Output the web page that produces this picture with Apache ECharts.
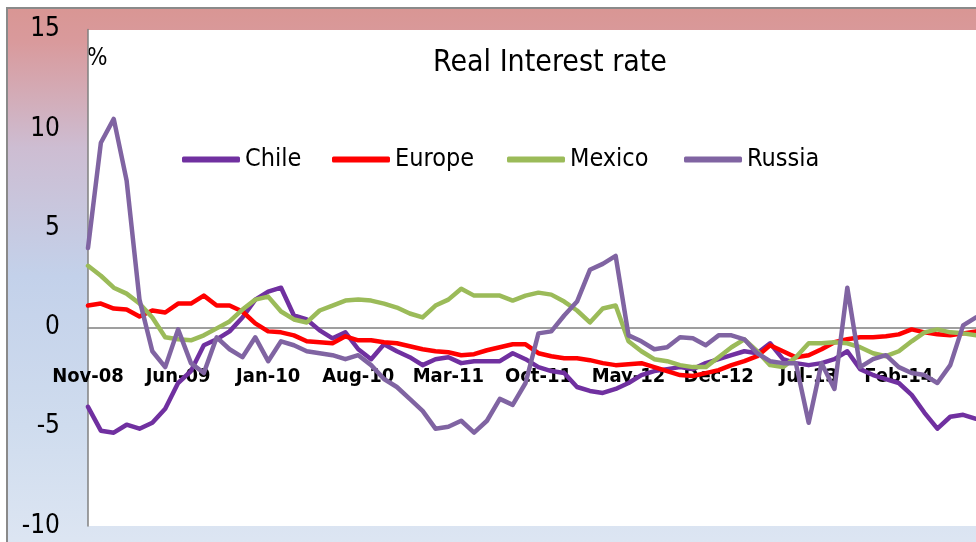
<!DOCTYPE html>
<html>
<head>
<meta charset="utf-8">
<script src="https://cdn.jsdelivr.net/npm/echarts@6/dist/echarts.min.js"></script>
<style>
  html, body { margin: 0; padding: 0; background: #fff; overflow: hidden; }
  #frame {
    position: absolute; left: 6px; top: 7px; width: 990px; height: 560px;
    border: 2px solid #8a8a8a; box-sizing: border-box;
    background: linear-gradient(to bottom, #d99694 0%, #d99a9c 6%, #cdbdd2 25%, #c3d1ea 48%, #cfdcee 75%, #dfe7f3 100%);
  }
  #plotbg { position: absolute; left: 88px; top: 30px; width: 900px; height: 496px; background: #fff; }
  #chart { position: absolute; left: 0; top: 0; width: 976px; height: 542px; }
</style>
</head>
<body>
<div id="frame"></div>
<div id="plotbg"></div>
<div id="chart"></div>
<script>
// monthly categories, Nov-08 .. Aug-14
const months = [
  'Nov-08', 'Dec-08',
  'Jan-09', 'Feb-09', 'Mar-09', 'Apr-09', 'May-09', 'Jun-09', 'Jul-09', 'Aug-09', 'Sep-09', 'Oct-09', 'Nov-09', 'Dec-09',
  'Jan-10', 'Feb-10', 'Mar-10', 'Apr-10', 'May-10', 'Jun-10', 'Jul-10', 'Aug-10', 'Sep-10', 'Oct-10', 'Nov-10', 'Dec-10',
  'Jan-11', 'Feb-11', 'Mar-11', 'Apr-11', 'May-11', 'Jun-11', 'Jul-11', 'Aug-11', 'Sep-11', 'Oct-11', 'Nov-11', 'Dec-11',
  'Jan-12', 'Feb-12', 'Mar-12', 'Apr-12', 'May-12', 'Jun-12', 'Jul-12', 'Aug-12', 'Sep-12', 'Oct-12', 'Nov-12', 'Dec-12',
  'Jan-13', 'Feb-13', 'Mar-13', 'Apr-13', 'May-13', 'Jun-13', 'Jul-13', 'Aug-13', 'Sep-13', 'Oct-13', 'Nov-13', 'Dec-13',
  'Jan-14', 'Feb-14', 'Mar-14', 'Apr-14', 'May-14', 'Jun-14', 'Jul-14', 'Aug-14'
]

const chile = [
  -4.0, -5.2, -5.3, -4.9, -5.1, -4.8, -4.1, -2.8, -2.2, -0.9,
  -0.6, -0.2, 0.5, 1.4, 1.8, 2.0, 0.6, 0.4, -0.15, -0.55,
  -0.25, -1.1, -1.6, -0.85, -1.2, -1.5, -1.9, -1.6, -1.5, -1.8,
  -1.7, -1.7, -1.7, -1.3, -1.6, -2.0, -2.2, -2.3, -3.0, -3.2,
  -3.3, -3.1, -2.8, -2.4, -2.2, -2.1, -2.0, -2.1, -1.8, -1.6,
  -1.4, -1.2, -1.3, -0.8, -1.6, -1.8, -1.9, -1.8, -1.6, -1.2,
  -2.1, -2.4, -2.6, -2.8, -3.4, -4.3, -5.1, -4.5, -4.4, -4.6
]

const europe = [
  1.1, 1.2, 0.95, 0.9, 0.55, 0.85, 0.75, 1.2, 1.2, 1.6,
  1.1, 1.1, 0.8, 0.2, -0.2, -0.25, -0.4, -0.7, -0.75, -0.8,
  -0.45, -0.65, -0.65, -0.75, -0.8, -0.95, -1.1, -1.2, -1.25, -1.4,
  -1.35, -1.15, -1.0, -0.85, -0.85, -1.3, -1.45, -1.55, -1.55, -1.65,
  -1.8, -1.9, -1.85, -1.8, -2.0, -2.2, -2.4, -2.45, -2.3, -2.15,
  -1.9, -1.7, -1.45, -0.9, -1.2, -1.5, -1.4, -1.1, -0.75, -0.6,
  -0.5, -0.5, -0.45, -0.35, -0.1, -0.25, -0.35, -0.4, -0.3, -0.2
]

const mexico = [
  3.1, 2.6, 2.0, 1.7, 1.2, 0.5, -0.5, -0.6, -0.65, -0.4,
  -0.05, 0.3, 0.9, 1.4, 1.55, 0.8, 0.4, 0.25, 0.85, 1.1,
  1.35, 1.4, 1.35, 1.2, 1.0, 0.7, 0.5, 1.1, 1.4, 1.95,
  1.6, 1.6, 1.6, 1.35, 1.6, 1.75, 1.65, 1.3, 0.85, 0.25,
  0.95, 1.1, -0.7, -1.2, -1.6, -1.7, -1.9, -2.0, -2.0, -1.5,
  -1.0, -0.6, -1.2, -1.9, -2.0, -1.5, -0.8, -0.8, -0.75, -0.8,
  -1.0, -1.3, -1.45, -1.2, -0.7, -0.25, -0.1, -0.25, -0.3, -0.4
]

const russia = [
  4.0, 9.3, 10.5, 7.4, 1.4, -1.2, -2.0, -0.1, -1.8, -2.3,
  -0.5, -1.1, -1.5, -0.5, -1.7, -0.7, -0.9, -1.2, -1.3, -1.4,
  -1.6, -1.4, -1.9, -2.6, -3.0, -3.6, -4.2, -5.1, -5.0, -4.7,
  -5.3, -4.7, -3.6, -3.9, -2.8, -0.3, -0.2, 0.6, 1.3, 2.9,
  3.2, 3.6, -0.4, -0.7, -1.1, -1.0, -0.5, -0.55, -0.9, -0.4,
  -0.4, -0.6, -1.3, -1.7, -1.8, -1.8, -4.8, -1.8, -3.1, 2.0,
  -2.0, -1.6, -1.4, -2.0, -2.3, -2.4, -2.8, -1.9, 0.1, 0.5
]

const yTicks = { min: -10, max: 15, step: 5 }

const FONT = "'Liberation Sans Narrow', 'DejaVu Sans Condensed', sans-serif"

const seriesDefs = [
  { name: 'Chile', data: chile, color: '#7030a0' },
  { name: 'Europe', data: europe, color: '#ff0000' },
  { name: 'Mexico', data: mexico, color: '#9bbb59' },
  { name: 'Russia', data: russia, color: '#8064a2' }
]
// legend item left edges (icon start)
const legendLefts = [182, 332, 507, 684]

const chart = echarts.init(document.getElementById('chart'), null, { renderer: 'canvas' })

chart.setOption({
  animation: false,
  backgroundColor: 'transparent',
  textStyle: { fontFamily: FONT },
  title: {
    text: 'Real Interest rate',
    left: 545,
    top: 43,
    textAlign: 'center',
    textStyle: { fontFamily: FONT, fontSize: 30, fontWeight: 'normal', color: '#000' }
  },
  graphic: [
    {
      type: 'text',
      left: 87,
      top: 47,
      style: { text: '%', font: "24px 'Liberation Sans Narrow', 'DejaVu Sans Condensed', sans-serif", fill: '#000' }
    }
  ],
  legend: seriesDefs.map((s, i) => ({
    data: [s.name],
    left: legendLefts[i],
    top: 147,
    padding: 0,
    icon: 'roundRect',
    itemWidth: 58,
    itemHeight: 6,
    selectedMode: false,
    textStyle: { fontFamily: FONT, fontSize: 25, color: '#000' }
  })),
  grid: {
    show: false,
    left: 88,
    right: 0,
    top: 29.5,
    bottom: 16,
    containLabel: false,
    outerBoundsMode: 'none'
  },
  xAxis: {
    type: 'category',
    data: months,
    boundaryGap: false,
    axisLine: { onZero: true, lineStyle: { color: '#808080', width: 1.5 } },
    axisTick: { show: false },
    axisLabel: {
      interval: 6,
      // v6 keeps labels at the grid bottom even with onZero, so pull them up under the zero line
      margin: -159,
      color: '#000',
      fontFamily: FONT,
      fontSize: 20,
      fontWeight: 'bold',
      hideOverlap: false
    },
    splitLine: { show: false }
  },
  yAxis: {
    type: 'value',
    min: yTicks.min,
    max: yTicks.max,
    interval: yTicks.step,
    axisLine: { show: true, lineStyle: { color: '#808080', width: 1.5 } },
    axisTick: { show: false },
    axisLabel: { margin: 28, color: '#000', fontFamily: FONT, fontSize: 26 },
    splitLine: { show: false }
  },
  series: seriesDefs.map(s => ({
    name: s.name,
    type: 'line',
    data: s.data,
    color: s.color,
    showSymbol: false,
    symbol: 'none',
    lineStyle: { width: 4.5, color: s.color, join: 'round', cap: 'round' }
  }))
})
</script>
</body>
</html>
